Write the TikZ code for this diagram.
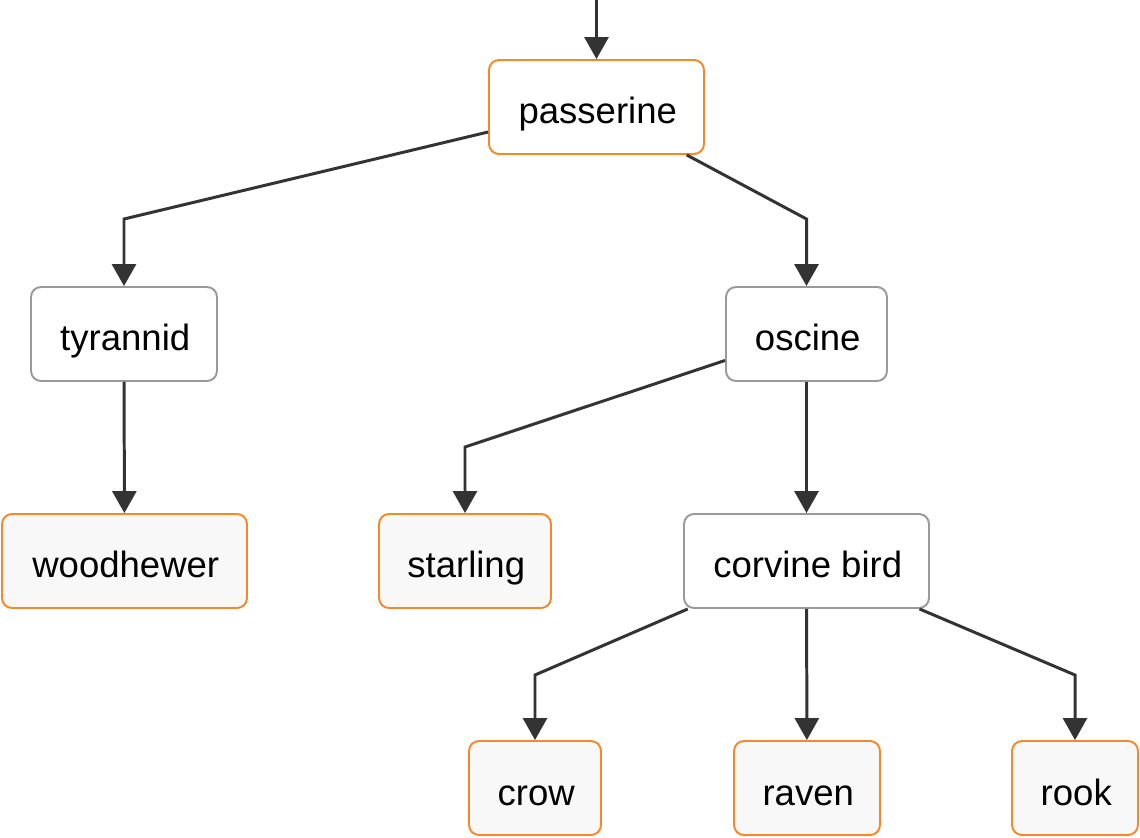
\documentclass[tikz,border=0pt]{standalone}
\usepackage{fontspec}
\setmainfont{Liberation Sans}
\usetikzlibrary{arrows.meta}

\definecolor{lineorange}{HTML}{F5892A}
\definecolor{linegray}{HTML}{999999}
\definecolor{leaffill}{HTML}{F8F8F8}
\definecolor{edgegray}{HTML}{333333}

\tikzset{
  box/.style={rectangle, rounded corners=0.2cm, line width=1.1pt, minimum height=1.88cm,
    inner sep=0pt, text height=0.9cm, text depth=0.22cm, font=\fontsize{20.8}{25}\selectfont},
  rootbox/.style={box, draw=lineorange, fill=white},
  innerbox/.style={box, draw=linegray, fill=white},
  leafbox/.style={box, draw=lineorange, fill=leaffill},
  edge/.style={draw=edgegray, line width=1.7pt, -{Triangle[width=0.48cm,length=0.44cm]}}
}

\begin{document}
\begin{tikzpicture}[x=0.02cm,y=-0.02cm]
\useasboundingbox (0,0) rectangle (1140,838);
%
% nodes
\node[rootbox, minimum width=4.3cm] (passerine) at (596.5,107) {\hspace{0.05cm}passerine};
\node[innerbox, minimum width=3.72cm] (tyrannid) at (124,334) {\hspace{0.05cm}tyrannid};
\node[innerbox, minimum width=3.22cm] (oscine) at (806.5,334) {\hspace{0.05cm}oscine};
\node[leafbox, minimum width=4.9cm] (woodhewer) at (124.5,561) {\hspace{0.05cm}woodhewer};
\node[leafbox, minimum width=3.44cm] (starling) at (465,561) {\hspace{0.05cm}starling};
\node[innerbox, minimum width=4.9cm] (corvine) at (806.5,561) {\hspace{0.05cm}corvine bird};
\node[leafbox, minimum width=2.64cm] (crow) at (535,788) {\hspace{0.05cm}crow};
\node[leafbox, minimum width=2.92cm] (raven) at (807,788) {\hspace{0.05cm}raven};
\node[leafbox, minimum width=2.52cm] (rook) at (1075,788) {\hspace{0.05cm}rook};
\coordinate (top) at (596.5,0);

% edges
\draw[edge] (top) -- (passerine);
\draw[edge] (passerine.193) -- (tyrannid.north |- 0,219) -- (tyrannid);
\draw[edge] (passerine.332) -- (oscine.north |- 0,219) -- (oscine);
\draw[edge] (tyrannid) -- (woodhewer);
\draw[edge] (oscine.198.5) -- (starling.north |- 0,447) -- (starling);
\draw[edge] (oscine) -- (corvine);
\draw[edge] (corvine.202.5) -- (crow.north |- 0,675) -- (crow);
\draw[edge] (corvine) -- (raven);
\draw[edge] (corvine.337) -- (rook.north |- 0,675) -- (rook);
\end{tikzpicture}
\end{document}
